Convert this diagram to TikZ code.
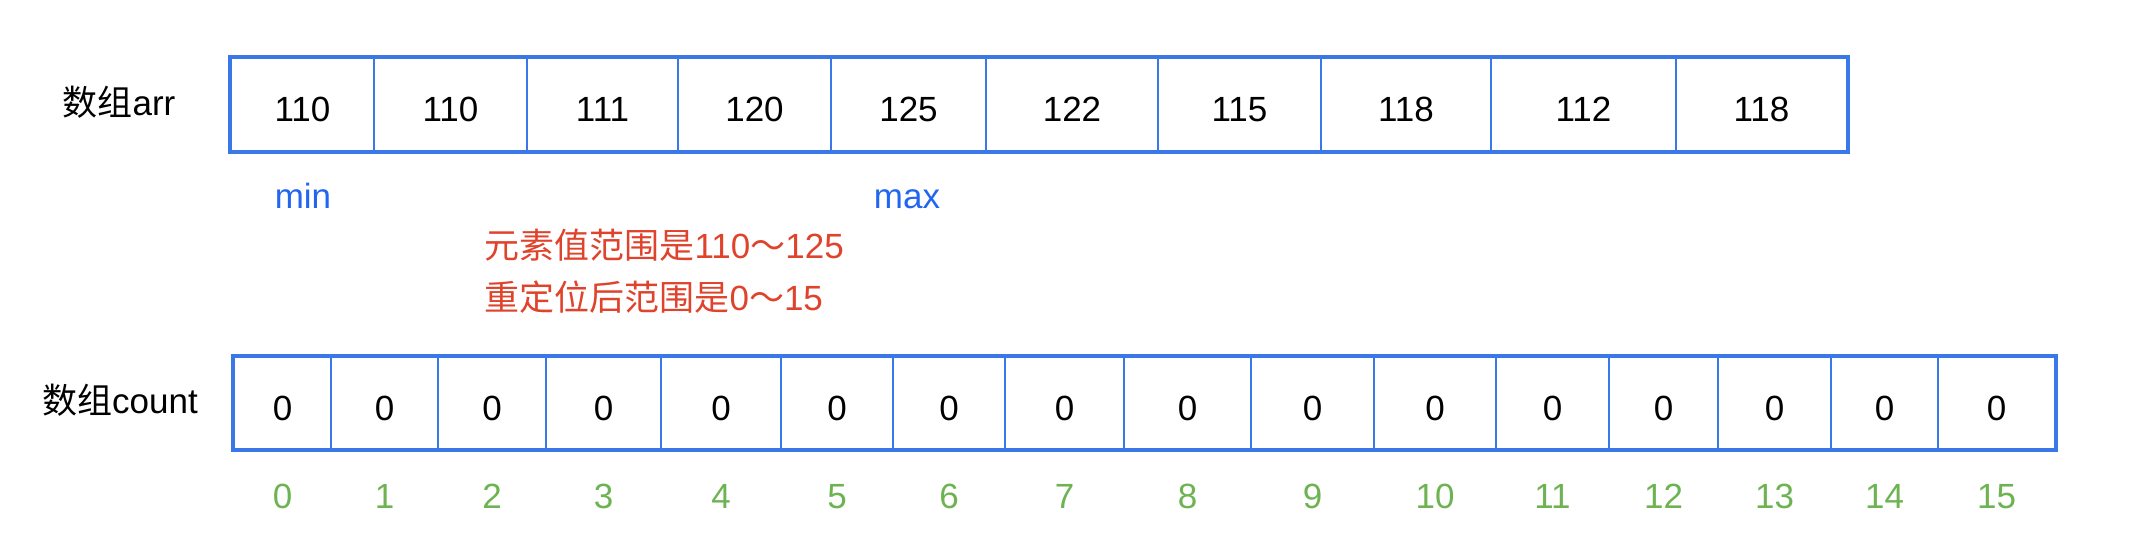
\documentclass[tikz,border=0pt]{standalone}
\usepackage{fontspec}
\setmainfont{Liberation Sans}
\newfontfamily\cjk{Noto Sans CJK SC}
\definecolor{lineblue}{HTML}{3B78E7}
\definecolor{txtblue}{HTML}{2266F0}
\definecolor{txtred}{HTML}{E0432C}
\definecolor{txtgreen}{HTML}{6DB352}
\begin{document}
\begin{tikzpicture}[x=1pt,y=-1pt,
  cellbox/.style={draw=lineblue, line width=2pt, rectangle, anchor=west, inner sep=0pt,
    font=\fontsize{35}{40}\selectfont, text depth=0pt},
  frame/.style={draw=lineblue, line width=3.2pt},
  rowlabel/.style={font=\fontsize{35}{40}\selectfont, anchor=base},
  marker/.style={font=\fontsize{35}{40}\selectfont, text=txtblue, anchor=base},
  note/.style={font=\fontsize{35}{40}\selectfont, text=txtred, anchor=base west},
  idx/.style={font=\fontsize{35}{40}\selectfont, text=txtgreen, anchor=base}]
\useasboundingbox (0,0) rectangle (2130,548);
% top array
\foreach \l/\r/\v [count=\i] in {230/373/110,373/526/110,526/677/111,677/830/120,830/985/125,985/1157/122,1157/1320/115,1320/1490/118,1490/1675/112,1675/1846/118}{
  \pgfmathsetmacro\w{\r-\l}
  \node[cellbox, minimum width=\w pt, minimum height=93pt, text height=34pt] (a\i) at (\l,104.5) {\v};
}
\draw[frame] (a1.north west) rectangle (a10.south east);
\node[rowlabel] (arrlabel) at (119,116) {{\cjk 数组}arr};
% markers
\node[marker] (min) at (303,208) {min};
\node[marker] (max) at (907,208) {max};
% notes
\node[note] (note1) at (481,258) {{\cjk 元素值范围是}110{\cjk ～}125};
\node[note] (note2) at (481,310) {{\cjk 重定位后范围是}0{\cjk ～}15};
% bottom array
\foreach \l/\r [count=\i from 0] in {233/330,330/437,437/545,545/660,660/780,780/892,892/1004,1004/1123,1123/1250,1250/1373,1373/1495,1495/1608,1608/1717,1717/1830,1830/1937,1937/2054}{
  \pgfmathsetmacro\w{\r-\l}
  \node[cellbox, minimum width=\w pt, minimum height=92pt, text height=35pt] (c\i) at (\l,403) {0};
  \node[idx] (i\i) at (c\i.center |- 0,508) {\i};
}
\draw[frame] (c0.north west) rectangle (c15.south east);
\node[rowlabel] (countlabel) at (120,413) {{\cjk 数组}count};
\end{tikzpicture}
\end{document}
